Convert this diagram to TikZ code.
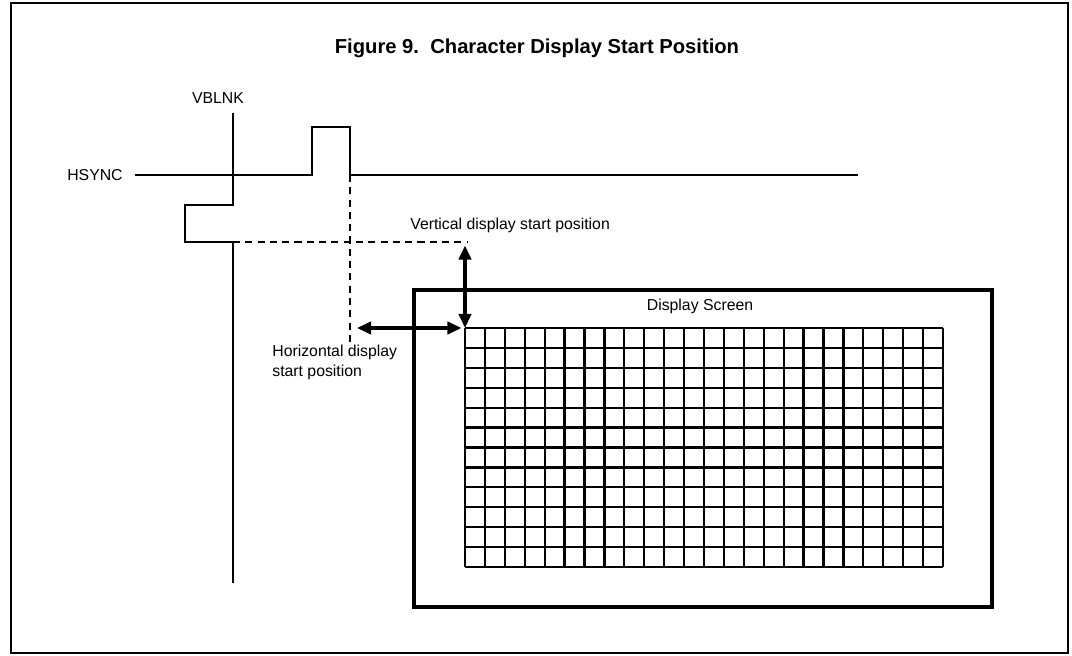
\documentclass[tikz,border=0pt]{standalone}
\usepackage{fontspec}
\setmainfont{Liberation Sans}
\usepackage{tikz}
\usetikzlibrary{arrows.meta, positioning, calc}

\begin{document}
\begin{tikzpicture}[
  x=0.02cm, y=-0.02cm,
  sig/.style={line width=1.5pt, line join=miter},
  guide/.style={line width=1.5pt, dash pattern=on 4pt off 3pt},
  frame/.style={line width=1.3pt},
  screen/.style={line width=2pt},
  cell/.style={line width=1.3pt},
  dim/.style={line width=1.8pt, {Triangle[length=8pt, width=7pt]}-{Triangle[length=8pt, width=7pt]}},
  lbl/.style={font=\fontsize{9}{11}\selectfont, inner sep=0pt},
  ttl/.style={font=\fontsize{11.5}{13}\selectfont\bfseries, inner sep=0pt}
]
  \useasboundingbox (0,0) rectangle (1072,656);

  % Frame and title
  \draw[frame] (11,3) rectangle (1068,653);
  \node[ttl] (title) at (537,48) {Figure 9.\ \ Character Display Start Position};

  % Signals
  \node[lbl] (vblnk) at (218,98) {VBLNK};
  \draw[sig] (233,113) -- (233,205) -- (185,205) -- (185,242) -- (233,242) -- (233,583);
  \node[lbl, anchor=east] (hsync) at (123,175) {HSYNC};
  \draw[sig] (135,175) -- (312,175) -- (312,127) -- (350,127) -- (350,175) -- (858,175);

  % Start positions
  \coordinate (origin) at (465,328);
  \coordinate (vstart) at (465,242);
  \coordinate (hstart) at (350,328);
  \draw[guide] (233,242) -- (468,242);
  \draw[guide] (350,175) -- (350,342);
  \draw[dim, shorten <=2pt] (vstart) -- (origin);
  \draw[dim, shorten <=4pt, shorten >=2pt] (hstart) -- (origin);
  \node[lbl, anchor=west] (vtext) at (410,225) {Vertical display start position};
  \node[lbl, anchor=north west, align=left] (htext) at (272,345) {Horizontal display\\start position};

  % Display screen
  \draw[screen] (414,290) rectangle (992,607);
  \node[lbl] (scrtext) at (700,306) {Display Screen};
  \foreach \i in {0,...,24} {
    \draw[cell] ($(origin)+(19.917*\i,0)$) -- ++(0,239);
  }
  \foreach \j in {0,...,12} {
    \draw[cell] ($(origin)+(0,19.917*\j)$) -- ++(478,0);
  }
\end{tikzpicture}
\end{document}
